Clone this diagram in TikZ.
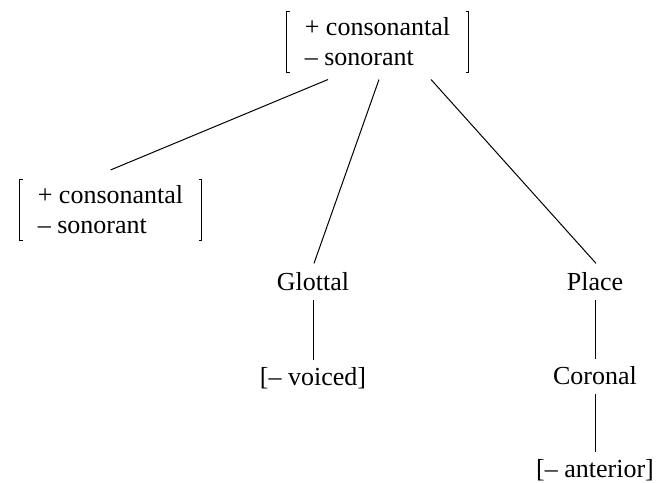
\documentclass[tikz,border=0pt]{standalone}
\usepackage{fontspec}
\setmainfont{Liberation Serif}
\usetikzlibrary{calc}

\begin{document}
\begin{tikzpicture}[x=1pt, y=-1pt, line width=1pt,
		every node/.style={font=\fontsize{26}{30}\selectfont, inner sep=0pt},
		feat/.style={align=left, minimum width=181pt, minimum height=60pt},
		tie/.style={shorten <=8pt, shorten >=7pt}]
			\useasboundingbox (0,0) rectangle (658,482);
			
			\def\tick{3};
			\def\brackets#1{%
				\draw ($(#1.north west)+(\tick,0)$) -- (#1.north west) -- (#1.south west) -- ++(\tick,0);
				\draw ($(#1.north east)+(-\tick,0)$) -- (#1.north east) -- (#1.south east) -- ++(-\tick,0);
			}
			
			\node[feat] (top) at (377.5,42) {+ consonantal\\– sonorant};
			\node[feat] (obs) at (110.5,209.5) {+ consonantal\\– sonorant};
			\brackets{top}
			\brackets{obs}
			
			\node (glottal) at (313,282) {Glottal};
			\node (voiced) at (313,378) {[– voiced]};
			\node (place) at (595,282) {Place};
			\node (coronal) at (595,376) {Coronal};
			\node (anterior) at (595,470) {[– anterior]};
			
			%branches from the root
			\draw ($(top.south)+(-49.5,7)$) -- ($(obs.north)+(0,-9)$);
			\draw ($(top.south)+(1.5,7)$) -- ($(glottal.north)+(1,-9)$);
			\draw ($(top.south)+(53.5,7)$) -- ($(place.north)+(1,-9)$);
			
			\draw[tie] (glottal) -- (voiced);
			\draw[tie] (place) -- (coronal);
			\draw[tie] (coronal) -- (anterior);
		\end{tikzpicture}
\end{document}
